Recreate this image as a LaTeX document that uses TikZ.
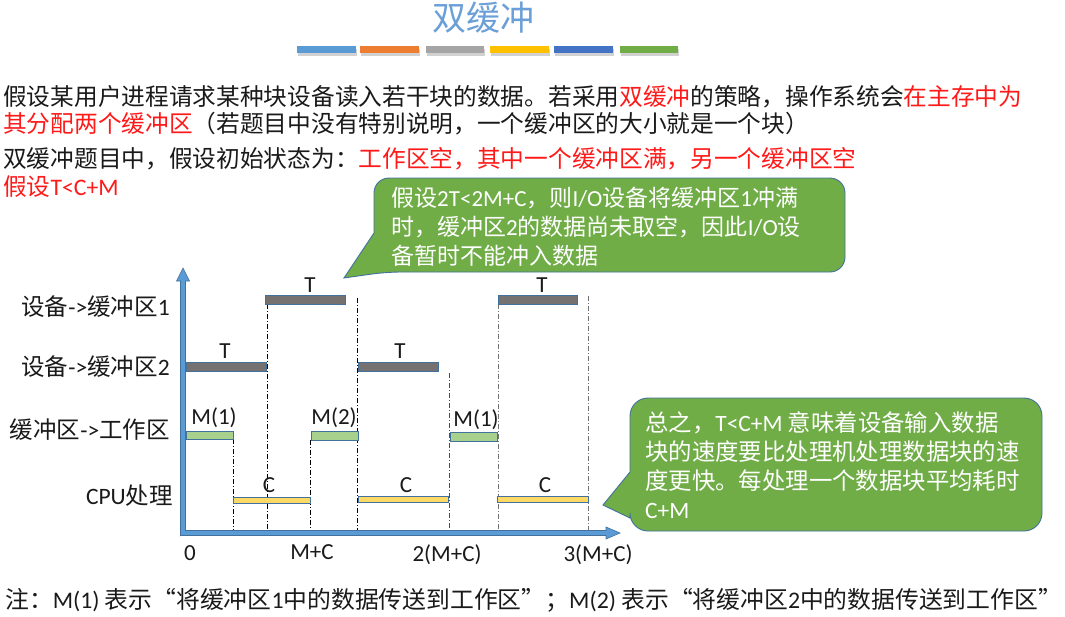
\documentclass[tikz,border=0pt]{standalone}
\usepackage{fontspec}
\setmainfont{Noto Sans CJK SC}
\newfontfamily\lat{Carlito}
\usetikzlibrary{arrows.meta}
\definecolor{titleblue}{HTML}{6A9FD8}
\definecolor{hired}{HTML}{FF1A1A}
\definecolor{txtc}{HTML}{1A1A1A}
\definecolor{cgreen}{HTML}{70AD47}
\definecolor{cborder}{HTML}{41719C}
\definecolor{axisfill}{HTML}{5B9BD5}
\definecolor{bgray}{HTML}{767171}
\definecolor{bgreen}{HTML}{A9D18E}
\definecolor{byellow}{HTML}{FFD966}
\newcommand{\hl}[1]{\textcolor{hired}{#1}}
\tikzset{
  txt/.style={inner sep=0pt, anchor=west, text=txtc},
  rowlab/.style={inner sep=0pt, anchor=east, text=txtc, font=\fontsize{23.5}{26}\selectfont},
  bartext/.style={inner sep=0pt, text=txtc, font=\lat\fontsize{23}{26}\selectfont},
  calloutbox/.style={fill=cgreen, draw=cborder, line width=0.9pt},
  callouttext/.style={inner sep=0pt, anchor=west, align=left, text=white},
  barbox/.style={draw=cborder, line width=0.8pt},
  guide/.style={line width=0.6pt, dash pattern=on 5pt off 2pt on 1pt off 2pt}
}
\begin{document}
\begin{tikzpicture}[x=1pt,y=-1pt,font=\fontsize{23.7}{26}\selectfont]
\useasboundingbox (0,0) rectangle (1065,616);
\fill[white] (0,0) rectangle (1065,616);

% title
\node[inner sep=0pt, text=titleblue, font=\fontsize{34}{38}\selectfont] (title) at (483,18) {双缓冲};
\foreach \xa/\xb/\c in {297/356/5B9BD5, 360/419/ED7D31, 426/484/A5A5A5, 490/549/FFC000, 554/613/4472C4, 620/678/70AD47}{
  \fill[black!18] (\xa+1,48.5) rectangle (\xb+1,55.5);
  \definecolor{tmpc}{HTML}{\c}
  \fill[tmpc] (\xa,46) rectangle (\xb,53);
}

% paragraphs
\node[txt] (p1) at (3,97) {假设某用户进程请求某种块设备读入若干块的数据。若采用\hl{双缓冲}的策略，操作系统会\hl{在主存中为}};
\node[txt] (p2) at (3,124) {\hl{其分配两个缓冲区}（若题目中没有特别说明，一个缓冲区的大小就是一个块）};
\node[txt] (p3) at (3,159) {双缓冲题目中，假设初始状态为：\hl{工作区空，其中一个缓冲区满，另一个缓冲区空}};
\node[txt] (p4) at (3,187) {\hl{假设{\lat T<C+M}}};

% callout 1
\draw[calloutbox] (344,278) -- (374,233) [rounded corners=15pt] -- (374,178) -- (845,178) -- (845,272) -- (386,272) [sharp corners] -- cycle;
\node[callouttext, font=\fontsize{23}{28.8}\selectfont] (c1) at (391,227) {假设{\lat 2T<2M+C}，则{\lat I/O}设备将缓冲区{\lat 1}冲满\\时，缓冲区{\lat 2}的数据尚未取空，因此{\lat I/O}设\\备暂时不能冲入数据};

% callout 2
\draw[calloutbox] (603,505) -- (630,472) [rounded corners=18pt] -- (630,398) -- (1042,398) -- (1042,531) -- (630,531) [sharp corners] -- (630,518) -- cycle;
\node[callouttext, font=\fontsize{23.4}{29}\selectfont] (c2) at (645,465) {总之，{\lat T<C+M} 意味着设备输入数据\\块的速度要比处理机处理数据块的速\\度更快。每处理一个数据块平均耗时\\{\lat C+M}};

% row labels
\node[rowlab] (r1) at (170,307) {设备{\lat ->}缓冲区{\lat 1}};
\node[rowlab] (r2) at (170,367) {设备{\lat ->}缓冲区{\lat 2}};
\node[rowlab] (r3) at (170,430) {缓冲区{\lat ->}工作区};
\node[rowlab] (r4) at (173,496) {{\lat CPU}处理};

% guide lines
\draw[guide, black] (233,439) -- (233,533);
\draw[guide, black] (267,304) -- (267,533);
\draw[guide, black] (310,440) -- (310,533);
\draw[guide, black] (357,298) -- (357,533);
\draw[guide, black!70] (449,373) -- (449,533);
\draw[guide, black!55] (498,304) -- (498,533);
\draw[guide, black!55] (588,296) -- (588,533);

% bars
\fill[bgray, barbox] (265,295) rectangle (345,304);
\fill[bgray, barbox] (498,295) rectangle (577,304);
\fill[bgray, barbox] (186,362) rectangle (266,371);
\fill[bgray, barbox] (358,362) rectangle (438,371);
\fill[bgreen, barbox] (186,431) rectangle (233,439);
\fill[bgreen, barbox] (311,431) rectangle (358,440);
\fill[bgreen, barbox] (450,432) rectangle (497,441);
\fill[byellow, barbox] (233,497) rectangle (310,503);
\fill[byellow, barbox] (358,496) rectangle (448,502);
\fill[byellow, barbox] (497,496) rectangle (588,502);

% bar labels
\node[bartext] (t1) at (310,285) {T};
\node[bartext] (t2) at (542,285) {T};
\node[bartext] (t3) at (225,351) {T};
\node[bartext] (t4) at (400,351) {T};
\node[bartext] (m1) at (214,418) {M(1)};
\node[bartext] (m2) at (334,418) {M(2)};
\node[bartext] (m3) at (476,420) {M(1)};
\node[bartext] (k1) at (269,485) {C};
\node[bartext] (k2) at (406,485) {C};
\node[bartext] (k3) at (545,485) {C};

% axes
\coordinate (O) at (183,533);
\fill[axisfill, draw=cborder, line width=0.6pt] (180.5,536) -- (180.5,281) -- (176.5,281) -- (183,268) -- (189.5,281) -- (185.5,281) -- (185.5,530.5) -- (606,530.5) -- (606,527) -- (620,533) -- (606,539) -- (606,535.5) -- (180.5,535.5) -- cycle;

% axis tick labels
\node[bartext] (x0) at (190,553) {0};
\node[bartext] (x1) at (312,552) {M+C};
\node[bartext] (x2) at (447,555) {2(M+C)};
\node[bartext] (x3) at (598,555) {3(M+C)};

% note
\node[txt, font=\fontsize{23.8}{26}\selectfont] (note) at (5,600) {注：{\lat M(1)} 表示“将缓冲区{\lat 1}中的数据传送到工作区”；{\lat M(2)} 表示“将缓冲区{\lat 2}中的数据传送到工作区”};
\end{tikzpicture}
\end{document}
